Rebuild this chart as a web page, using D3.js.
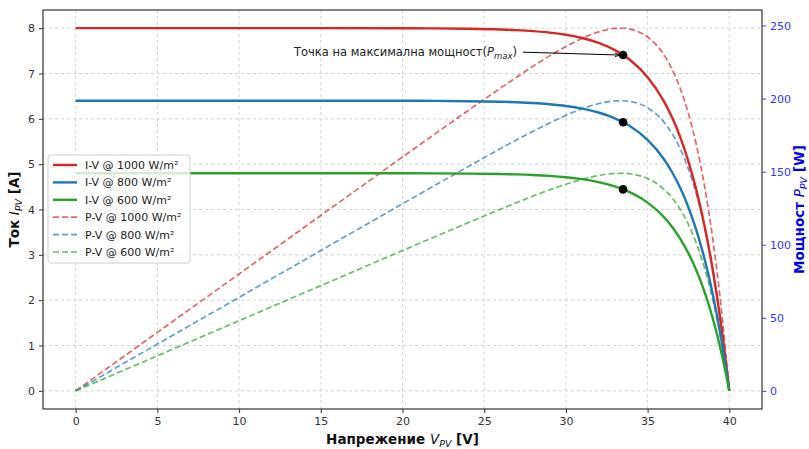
<!DOCTYPE html>
<html><head><meta charset="utf-8">
<script src="https://cdn.jsdelivr.net/npm/d3@7"></script>
<style>body{margin:0;background:#fff}svg{display:block;font-family:"DejaVu Sans",sans-serif}</style>
</head><body><svg id="c" width="809" height="449"></svg>
<script>
const voltage = [0,2,5,10,15,20,22,24,26,27,28,29,30,31,32,33,33.5,34,35,36,36.5,37,37.5,38,38.5,39,39.5,40];
const current1000 = [8,8,8,8,8,7.998,7.994,7.986,7.970,7.956,7.934,7.902,7.854,7.782,7.674,7.514,7.406,7.274,6.918,6.385,6.027,5.590,5.057,4.406,3.610,2.638,1.450,0];
const current800 = [6.4,6.4,6.4,6.4,6.4,6.398,6.396,6.389,6.376,6.365,6.348,6.321,6.283,6.225,6.139,6.011,5.924,5.820,5.534,5.108,4.822,4.472,4.045,3.524,2.888,2.110,1.160,0];
const current600 = [4.8,4.8,4.8,4.8,4.8,4.799,4.797,4.792,4.782,4.774,4.761,4.741,4.712,4.669,4.604,4.508,4.443,4.365,4.151,3.831,3.616,3.354,3.034,2.643,2.166,1.583,0.870,0];
const power1000 = [0,16,40,80,120,160.0,175.9,191.7,207.2,214.8,222.2,229.2,235.6,241.2,245.6,248.0,248.1,247.3,242.1,229.9,220.0,206.8,189.6,167.4,139.0,102.9,57.3,0];
const power800 = [0,12.8,32,64,96,128.0,140.7,153.3,165.8,171.9,177.7,183.3,188.5,193.0,196.5,198.4,198.5,197.9,193.7,183.9,176.0,165.5,151.7,133.9,111.2,82.3,45.8,0];
const power600 = [0,9.6,24,48,72,96.0,105.5,115.0,124.3,128.9,133.3,137.5,141.4,144.7,147.4,148.8,148.9,148.4,145.3,137.9,132.0,124.1,113.8,100.4,83.4,61.7,34.4,0];
const mppVoltage = [33.5,33.5,33.5];
const mppCurrent = [7.406,5.924,4.443];
const xTicks = [0,5,10,15,20,25,30,35,40];
const yTicks = [0,1,2,3,4,5,6,7,8];
const pTicks = [0,50,100,150,200,250];
const labels = ["1000 W/m²","800 W/m²","600 W/m²"];
const colors = ["#d62728","#1f77b4","#2ca02c"];

const svg = d3.select("#c");
const L=43,R=762,T=10,B=409;
const x = d3.scaleLinear().domain([-2,42]).range([L,R]);
const y = d3.scaleLinear().domain([-0.4,8.4]).range([B,T]);
const yp = d3.scaleLinear().domain([-12.41,260.6]).range([B,T]);

// grid
const g = svg.append("g");
g.selectAll(".gx").data(xTicks).join("line").attr("x1",d=>x(d)).attr("x2",d=>x(d)).attr("y1",T).attr("y2",B)
 .attr("stroke","#c8c8c8").attr("stroke-width",0.8).attr("stroke-dasharray","3,3");
g.selectAll(".gy").data(yTicks).join("line").attr("y1",d=>y(d)).attr("y2",d=>y(d)).attr("x1",L).attr("x2",R)
 .attr("stroke","#c8c8c8").attr("stroke-width",0.8).attr("stroke-dasharray","3,3");

const currents=[current1000,current800,current600];
const powers=[power1000,power800,power600];
const lineI = d3.line().curve(d3.curveMonotoneX);
powers.forEach((p,i)=>{
  svg.append("path").attr("d",lineI(voltage.map((v,k)=>[x(v),yp(p[k])])))
   .attr("fill","none").attr("stroke",colors[i]).attr("stroke-opacity",0.7).attr("stroke-width",1.7).attr("stroke-dasharray","6,3");
});
currents.forEach((c,i)=>{
  svg.append("path").attr("d",lineI(voltage.map((v,k)=>[x(v),y(c[k])])))
   .attr("fill","none").attr("stroke",colors[i]).attr("stroke-width",2.4);
});
svg.selectAll(".mpp").data(mppCurrent).join("circle").attr("cx",(d,i)=>x(mppVoltage[i])).attr("cy",d=>y(d)).attr("r",4.3).attr("fill","#000");

// annotation
svg.append("defs").append("marker").attr("id","ah").attr("viewBox","0 0 10 10").attr("refX",10).attr("refY",5)
 .attr("markerWidth",6).attr("markerHeight",6).attr("orient","auto")
 .append("path").attr("d","M0,2 L10,5 L0,8").attr("fill","none").attr("stroke","#000").attr("stroke-width",1.5);
const at = svg.append("text").attr("x",517).attr("y",y(7.47)+4).attr("text-anchor","end").attr("font-size",11.5).attr("fill","#222");
at.append("tspan").text("Точка на максимална мощност(");
at.append("tspan").attr("font-style","italic").text("P");
at.append("tspan").attr("font-style","italic").attr("font-size",8.5).attr("dy",3).text("max");
at.append("tspan").attr("dy",-3).text(")");
svg.append("line").attr("x1",523).attr("y1",y(7.47)).attr("x2",x(33.35)).attr("y2",y(mppCurrent[0]))
 .attr("stroke","#000").attr("stroke-width",1).attr("marker-end","url(#ah)");

// frame
svg.append("rect").attr("x",L).attr("y",T).attr("width",R-L).attr("height",B-T).attr("fill","none").attr("stroke","#333").attr("stroke-width",1.2);

// axes
const ax = svg.append("g").attr("transform",`translate(0,${B})`).call(d3.axisBottom(x).tickValues(xTicks).tickSize(4).tickPadding(4));
const ay = svg.append("g").attr("transform",`translate(${L},0)`).call(d3.axisLeft(y).tickValues(yTicks).tickSize(4).tickPadding(4));
const ap = svg.append("g").attr("transform",`translate(${R},0)`).call(d3.axisRight(yp).tickValues(pTicks).tickSize(4).tickPadding(4));
[ax,ay,ap].forEach(a=>{a.select(".domain").remove();a.selectAll("text").attr("font-family","DejaVu Sans").attr("font-size",11);});
ax.selectAll("text").attr("fill","#333");ay.selectAll("text").attr("fill","#333");
ax.selectAll("line").attr("stroke","#333");ay.selectAll("line").attr("stroke","#333");
ap.selectAll("text").attr("fill","#3333ff");ap.selectAll("line").attr("stroke","#3333ff");

// axis labels
const xl = svg.append("text").attr("x",(L+R)/2).attr("y",444).attr("text-anchor","middle").attr("font-size",13.5).attr("font-weight","bold").attr("fill","#111");
xl.append("tspan").text("Напрежение ");
xl.append("tspan").attr("font-style","italic").attr("font-weight","normal").text("V");
xl.append("tspan").attr("font-style","italic").attr("font-weight","normal").attr("font-size",9.5).attr("dy",3).text("PV");
xl.append("tspan").attr("dy",-3).text(" [V]");
const yl = svg.append("text").attr("transform",`translate(19,${(T+B)/2}) rotate(-90)`).attr("text-anchor","middle").attr("font-size",13.5).attr("font-weight","bold").attr("fill","#111");
yl.append("tspan").text("Ток ");
yl.append("tspan").attr("font-style","italic").attr("font-weight","normal").text("I");
yl.append("tspan").attr("font-style","italic").attr("font-weight","normal").attr("font-size",9.5).attr("dy",3).text("PV");
yl.append("tspan").attr("dy",-3).text(" [A]");
const pl = svg.append("text").attr("transform",`translate(804,${(T+B)/2}) rotate(-90)`).attr("text-anchor","middle").attr("font-size",13.5).attr("font-weight","bold").attr("fill","#0000ee");
pl.append("tspan").text("Мощност ");
pl.append("tspan").attr("font-style","italic").attr("font-weight","normal").text("P");
pl.append("tspan").attr("font-style","italic").attr("font-weight","normal").attr("font-size",9.5).attr("dy",3).text("PV");
pl.append("tspan").attr("dy",-3).text(" [W]");

// legend
const lg = svg.append("g");
lg.append("rect").attr("x",48).attr("y",155).attr("width",142).attr("height",108).attr("rx",3)
 .attr("fill","#fff").attr("fill-opacity",0.8).attr("stroke","#d0d0d0");
const entries = [];
labels.forEach((l,i)=>entries.push({t:"I-V @ "+l,c:colors[i],dash:false}));
labels.forEach((l,i)=>entries.push({t:"P-V @ "+l,c:colors[i],dash:true}));
entries.forEach((e,i)=>{
  const yy = 165+i*17.4;
  lg.append("line").attr("x1",53).attr("x2",77).attr("y1",yy).attr("y2",yy).attr("stroke",e.c)
   .attr("stroke-width",e.dash?1.7:2.4).attr("stroke-dasharray",e.dash?"6,3":null).attr("stroke-opacity",e.dash?0.7:1);
  lg.append("text").attr("x",85).attr("y",yy+4).attr("font-size",11).attr("fill","#222").text(e.t);
});
</script></body></html>
